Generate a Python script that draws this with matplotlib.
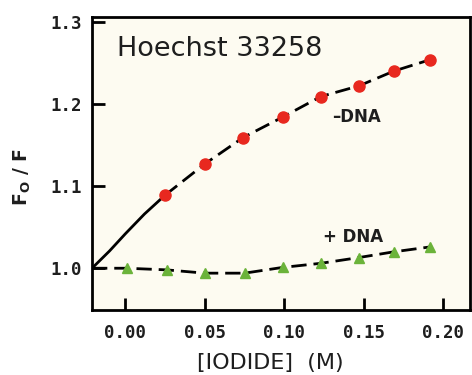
import matplotlib
matplotlib.use("Agg")
import matplotlib.pyplot as plt

# -DNA (red circles)
minus_x = [0.025, 0.050, 0.074, 0.099, 0.123, 0.147, 0.169, 0.192]
minus_y = [1.089, 1.127, 1.159, 1.184, 1.209, 1.222, 1.240, 1.254]
# solid start of the -DNA curve
minus_start_x = [-0.021, -0.010, 0.000, 0.012, 0.025]
minus_start_y = [1.000, 1.021, 1.042, 1.066, 1.089]

# +DNA (green triangles)
plus_x = [0.001, 0.026, 0.050, 0.075, 0.099, 0.123, 0.147, 0.169, 0.192]
plus_y = [1.000, 0.998, 0.994, 0.994, 1.001, 1.006, 1.013, 1.020, 1.026]
plus_start_x = [-0.021]
plus_start_y = [1.000]

xticks = [0.00, 0.05, 0.10, 0.15, 0.20]
yticks = [1.0, 1.1, 1.2, 1.3]

RED = "#e8281f"
GREEN = "#6bb33a"
BG = "#fdfbf1"
INK = "#1e1e1e"

fig = plt.figure(figsize=(4.72, 3.75), dpi=100)
ax = fig.add_axes([0.195, 0.173, 0.801, 0.782])
ax.set_facecolor(BG)

ax.plot(minus_start_x, minus_start_y, color="black", lw=2.0, solid_capstyle="butt")
ax.plot(minus_x, minus_y, color="black", lw=2.0, dashes=(5.5, 2.5))
ax.plot(minus_x, minus_y, "o", color=RED, ms=8, mec=RED)

ax.plot(plus_start_x + plus_x, plus_start_y + plus_y, color="black", lw=2.0,
        dashes=(5.5, 2.5))
ax.plot(plus_x, plus_y, "^", color=GREEN, ms=7.5, mec=GREEN)

ax.set_xlim(-0.021, 0.217)
ax.set_ylim(0.949, 1.306)
ax.set_xticks(xticks)
ax.set_yticks(yticks)
ax.set_xticklabels(["%.2f" % v for v in xticks])
ax.set_yticklabels(["%.1f" % v for v in yticks])

for s in ax.spines.values():
    s.set_linewidth(2.0)
ax.tick_params(direction="in", length=9, width=2.0)
ax.tick_params(axis="x", pad=10)
ax.tick_params(axis="y", pad=7)
for lab in ax.get_xticklabels() + ax.get_yticklabels():
    lab.set_family("DejaVu Sans Mono")
    lab.set_fontweight("bold")
    lab.set_fontsize(12.5)
    lab.set_color(INK)

ax.text(0.066, 0.868, "Hoechst 33258", transform=ax.transAxes,
        fontsize=19.5, family="DejaVu Sans", color=INK)
ax.text(0.635, 0.66, "\u2013DNA", transform=ax.transAxes,
        fontsize=12, fontweight="bold", color=INK, va="center")
ax.text(0.612, 0.25, "+ DNA", transform=ax.transAxes,
        fontsize=12, fontweight="bold", color=INK, va="center")

fig.text(0.572, 0.032, "[IODIDE]  (M)", ha="center", va="center",
         fontsize=16, family="DejaVu Sans", color=INK)
fig.text(0.048, 0.527, r"F$_\mathbf{O}$ / F", rotation=90, ha="center",
         va="center", fontsize=13.5, fontweight="bold", color=INK)

fig.savefig("out.png", dpi=100)
